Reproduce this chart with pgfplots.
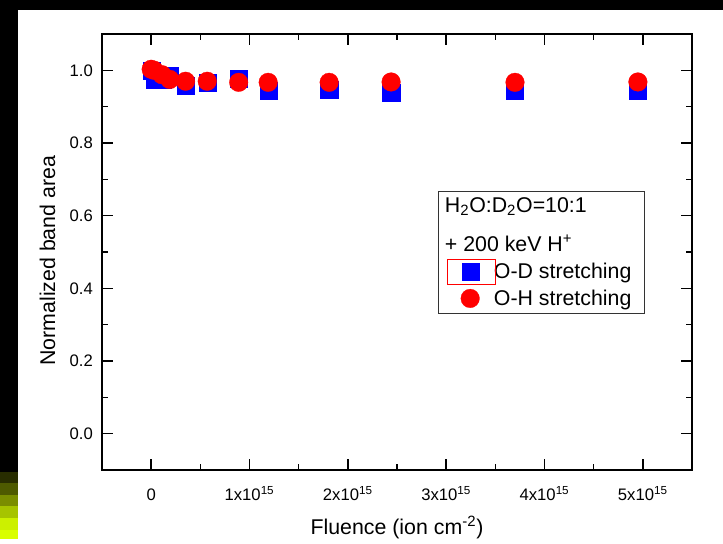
\documentclass[border=0pt]{standalone}
\usepackage{pgfplots}
\pgfplotsset{compat=1.18}
\usepackage{pgfplotstable}
\usepackage{fontspec}
\setmainfont{Liberation Sans}

\definecolor{g1}{RGB}{40,45,0}
\definecolor{g2}{RGB}{78,90,0}
\definecolor{g3}{RGB}{122,142,0}
\definecolor{g4}{RGB}{166,196,0}
\definecolor{g5}{RGB}{204,240,0}
\definecolor{g6}{RGB}{217,255,0}

\pgfplotstableread{
x y
0    1.000
0.04 0.975
0.12 0.975
0.19 0.985
0.35 0.958
0.57 0.967
0.89 0.978
1.19 0.943
1.81 0.946
2.44 0.939
3.70 0.945
4.95 0.945
}\od

\pgfplotstableread{
x y
0    1.003
0.03 1.000
0.11 0.988
0.19 0.975
0.35 0.970
0.57 0.970
0.89 0.967
1.19 0.967
1.81 0.967
2.44 0.968
3.70 0.967
4.95 0.968
}\oh

\begin{document}
\begin{tikzpicture}
\begin{scope}[x=0.75pt,y=0.75pt]
\useasboundingbox (0,0) rectangle (723,539);
\fill[white] (0,0) rectangle (723,539);
\fill[black] (0,529) rectangle (723,539);
\fill[black] (0,67) rectangle (18,539);
\fill[g1] (0,56) rectangle (18,67);
\fill[g2] (0,44) rectangle (18,56);
\fill[g3] (0,33) rectangle (18,44);
\fill[g4] (0,21) rectangle (18,33);
\fill[g5] (0,9) rectangle (18,21);
\fill[g6] (0,0) rectangle (18,9);
\end{scope}
\begin{axis}[
  at={(76.5pt,51.75pt)}, anchor=south west,
  scale only axis, width=442.5pt, height=327pt,
  xmin=-0.5, xmax=5.5, ymin=-0.1, ymax=1.1,
  xtick={0,1,2,3,4,5},
  xticklabels={0,1x10\textsuperscript{15},2x10\textsuperscript{15},3x10\textsuperscript{15},4x10\textsuperscript{15},5x10\textsuperscript{15}},
  minor x tick num=1,
  ytick={0,0.2,0.4,0.6,0.8,1.0},
  minor y tick num=1,
  /pgf/number format/assume math mode=true,
  /pgf/number format/fixed, /pgf/number format/fixed zerofill, /pgf/number format/precision=1,
  tick align=inside,
  major tick length=8pt, minor tick length=4.5pt,
  axis line style={line width=1.2pt},
  every tick/.style={black, line width=1.2pt},
  tick label style={font=\fontsize{12.5}{15}\selectfont},
  xticklabel style={text height=11pt, text depth=0pt, yshift=-8pt},
  yticklabel style={xshift=-3.3pt},
  xlabel={Fluence (ion cm\textsuperscript{-2})},
  ylabel={Normalized band area},
  label style={font=\fontsize{16}{19}\selectfont},
  xlabel style={at={(axis description cs:0.5,-0.149)}, anchor=base},
  ylabel style={at={(axis description cs:-0.0924,0.48)}, anchor=center},
  legend style={at={(axis description cs:0.569,0.64)}, anchor=north west,
    draw=black!80, line width=0.6pt, inner xsep=8pt, inner ysep=2.5pt,
    row sep=3pt,
    font=\fontsize{16}{19}\selectfont},
  legend cell align=left,
  legend image code/.code={\path (-15.75pt,0pt) (15.5pt,0pt); \draw plot coordinates {(0pt,0pt)};},
]
\addlegendimage{empty legend}
\addlegendentry{\hspace*{-36.75pt}H\textsubscript{2}O:D\textsubscript{2}O=10:1}
\addlegendimage{empty legend}
\addlegendentry{\hspace*{-36.75pt}\rule{0pt}{21pt}+ 200 keV H\textsuperscript{+}}
\addplot[only marks, mark=square*, mark size=6.4pt, mark options={draw=blue, fill=blue, line width=0.2pt}] table[x=x,y=y] {\od};
\addlegendentry{O-D stretching}
\addplot[only marks, mark=*, mark size=7pt, mark options={draw=red, fill=red, line width=0.2pt}] table[x=x,y=y] {\oh};
\addlegendentry{O-H stretching}
\end{axis}
\begin{scope}[x=0.75pt,y=0.75pt]
\draw[red, line width=0.6pt] (447,255) rectangle (495,280);
\end{scope}
\end{tikzpicture}
\end{document}
